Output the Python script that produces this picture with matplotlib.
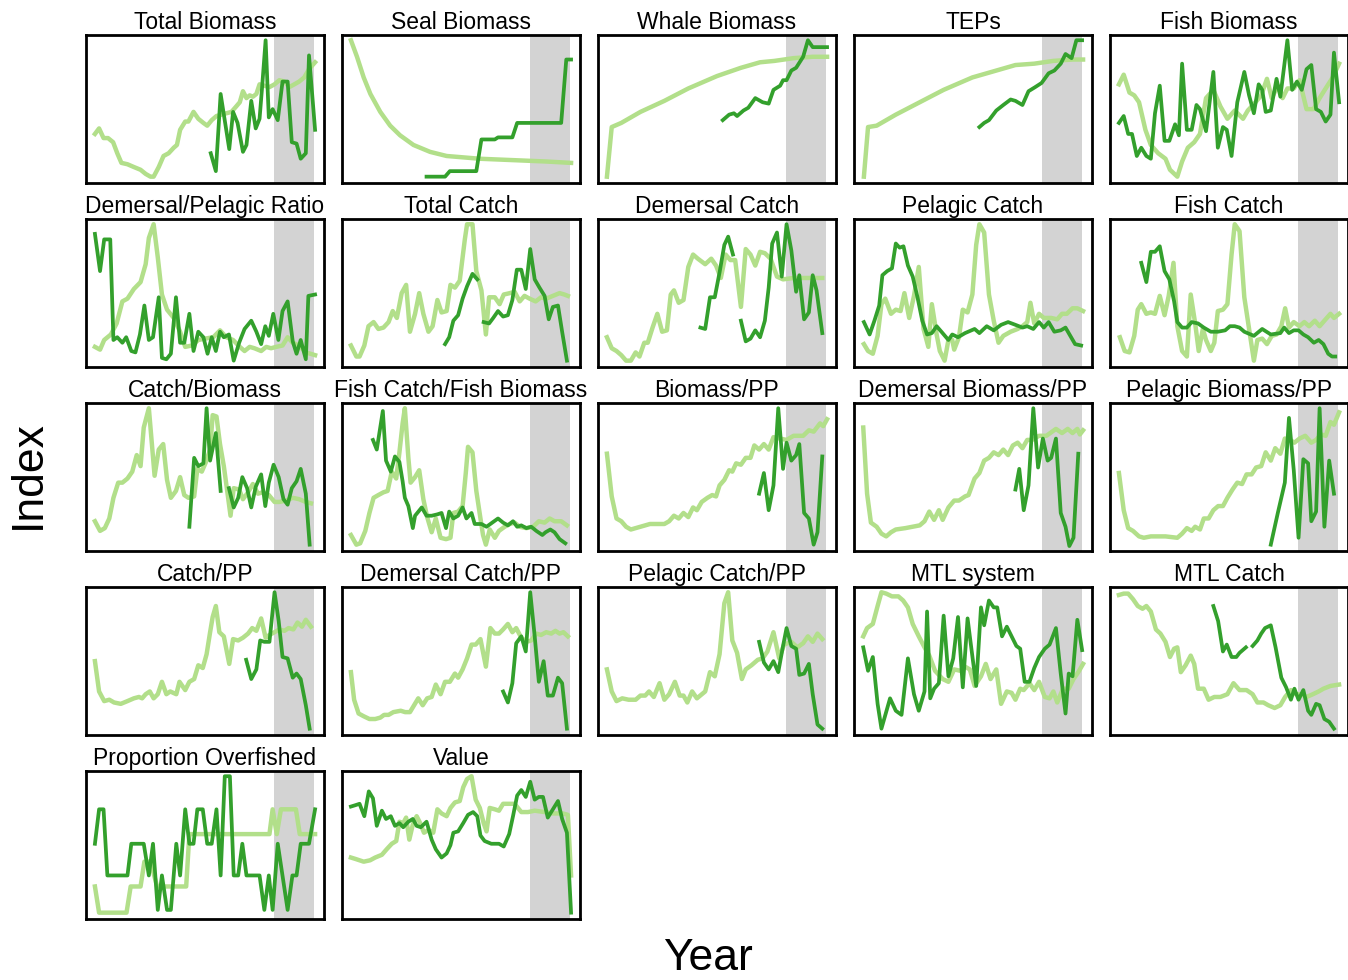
import numpy as np
import matplotlib
matplotlib.use("Agg")
import matplotlib.pyplot as plt

nan = np.nan

# values are an index scaled 0-100 inside each panel
# light = model series, dark = observed series

# Total Biomass
tb_mod_yr = [1950, 1951.3, 1952.7, 1954.1, 1955.7, 1957, 1958.3, 1960.2, 1962.2, 1964.3, 1965.9, 1967.4, 1968.4,
             1970, 1971.5, 1973.1, 1974.7, 1975.7, 1976.7, 1978.3, 1979.3, 1980.9, 1982.4, 1984, 1985.2, 1986.6,
             1988.1, 1989.7, 1991.2, 1992.8, 1994.3, 1995.4, 1996.4, 1997.5, 1998.5, 1999.5, 2000.6, 2001.6,
             2003.1, 2004.7, 2006.3, 2007.8, 2009.4, 2010.9, 2012.5, 2014, 2015.6, 2017.1, 2019]
tb_mod = [32, 36, 29, 29, 26, 18, 11, 10, 8, 6, 3, 1, 1, 8, 16, 18, 22, 24, 35, 41, 41, 48, 43, 40, 38, 42, 45, 46,
          47, 48, 52, 55, 63, 58, 60, 59, 61, 68, 67, 66, 68, 71, 70, 66, 68, 70, 73, 79, 84]
tb_obs_yr = [1986.3, 1987.9, 1989.4, 1992.1, 1993.3, 1994.7, 1996.4, 1997.5, 1999, 2000.4, 2001.6, 2002.4, 2003.5,
             2004.5, 2005.7, 2007.3, 2008.8, 2010.4, 2011.7, 2013.2, 2014.5, 2016.1, 2017.1, 2019]
tb_obs = [18, 5, 61, 21, 48, 40, 19, 24, 56, 36, 43, 66, 100, 44, 50, 42, 70, 70, 26, 25, 14, 18, 89, 35]

# Seal Biomass
seal_mod_yr = [1950, 1951.9, 1954, 1956.1, 1959.2, 1962.3, 1965.4, 1969.6, 1974.8, 1980, 1985.2, 1990.4, 2000.8,
               2011.2, 2019]
seal_mod = [100, 88, 73, 61, 48, 38, 31, 24, 19, 16, 15, 14, 13, 12, 11]
seal_obs_yr = [1973.7, 1979.5, 1981, 1989.3, 1990.9, 1995.1, 1996.1, 2000.6, 2002.1, 2015.9, 2017.5, 2019]
seal_obs = [1, 1, 5, 5, 28, 28, 29.5, 29.5, 40, 40, 86, 86]

# Whale Biomass
whale_mod_yr = [1950, 1951.5, 1954.5, 1960.5, 1968, 1975.5, 1984.5, 1992, 1998, 2002.5, 2008.5, 2014.5, 2019]
whale_mod = [1, 37, 40, 48, 56, 65, 74, 80, 84, 85, 87, 88, 88]
whale_obs_yr = [1986.3, 1988.3, 1989.8, 1990.8, 1992.8, 1994.3, 1996.5, 1998.8, 2000.7, 2002.2, 2004.3, 2005.2,
                2006.3, 2007.8, 2009.3, 2011.5, 2013, 2014.5, 2019]
whale_obs = [42, 46, 47, 45, 49, 51, 58, 55, 54, 64, 67, 71, 71, 78, 80, 88, 100, 95, 95]

# TEPs
tep_mod_yr = [1950.3, 1951.6, 1954.3, 1960.3, 1967.8, 1975.3, 1984.3, 1991.8, 1997.8, 2003.7, 2009.7, 2015.7, 2019]
tep_mod = [1, 37, 38, 46, 55, 64, 73, 78, 82, 83, 85, 86, 86]
tep_obs_yr = [1986.5, 1988, 1989.5, 1991.8, 1994, 1996.3, 1997.8, 2000, 2001.9, 2004, 2006, 2008.2, 2010, 2012,
              2013.5, 2015.4, 2016.9, 2018.7]
tep_obs = [37, 40, 42, 49, 53, 57, 56, 53, 63, 66, 69, 76, 78, 83, 90, 87, 100, 100]

# Fish Biomass
fb_mod_yr = [1950, 1951.5, 1953.3, 1954.8, 1956.3, 1958.3, 1960, 1962.3, 1964.6, 1966, 1968.3, 1969.8, 1971.6,
             1973.6, 1975.4, 1977.3, 1979.6, 1981.8, 1984, 1986.3, 1988.9, 1990.4, 1992.8, 1994.6, 1996.4, 1997.9,
             1999.8, 2001.3, 2002.8, 2004.8, 2006.6, 2008.8, 2011, 2012.9, 2014.8, 2017, 2019]
fb_mod = [68, 75, 62, 60, 55, 35, 24, 18, 14, 6, 1, 12, 22, 26, 32, 58, 64, 52, 43, 49, 43, 49, 55, 60, 72, 58, 67,
          58, 65, 65, 71, 50, 50, 58, 65, 73, 83]
fb_obs_yr = [1950, 1951.5, 1952.9, 1954.1, 1955.6, 1957, 1958.6, 1960, 1961.3, 1962.8, 1964.3, 1965.8, 1967.6,
             1968.8, 1969.8, 1971.3, 1972.8, 1974.3, 1975.4, 1977.3, 1979.6, 1981, 1982.6, 1983.8, 1985.3, 1987.1,
             1989.3, 1990.8, 1992.3, 1993.8, 1994.9, 1996, 1997.6, 1999.4, 2000.6, 2002.8, 2004.3, 2005.8, 2007.3,
             2008.8, 2010.3, 2011.8, 2013.3, 2014.8, 2016.3, 2017.4, 2019]
fb_obs = [40, 45, 32, 32, 16, 22, 16, 14, 47, 67, 27, 27, 39, 31, 83, 35, 35, 53, 50, 34, 77, 22, 37, 35, 16, 55,
          77, 60, 47, 68, 64, 48, 49, 72, 59, 100, 64, 70, 64, 79, 82, 50, 48, 41, 46, 91, 55]

# Demersal/Pelagic Ratio
dp_mod_yr = [1950, 1951.6, 1952.9, 1955, 1956.8, 1958.6, 1960.2, 1962.2, 1964.3, 1965.9, 1966.9, 1968.4, 1969.7,
             1971, 1972.6, 1974.7, 1976.7, 1978.3, 1980.4, 1982.4, 1984.5, 1987.1, 1989.2, 1991.2, 1993.3, 1995.4,
             1996.9, 1998.5, 2000, 2002.1, 2003.7, 2005.2, 2006.8, 2008.8, 2010.4, 2012, 2014, 2016.1, 2019]
dp_mod = [11, 9, 16, 20, 28, 44, 46, 53, 58, 71, 90, 100, 76, 49, 38, 32, 22, 11, 12, 16, 17, 18, 23, 18, 16, 11,
          8, 11, 10, 8, 11, 10, 11, 12, 18, 14, 12, 7, 5]
dp_obs_yr = [1950, 1951.6, 1952.9, 1954.8, 1955.8, 1957, 1958.6, 1959.8, 1961.4, 1962.7, 1964.1, 1965.5, 1966.9,
             1968.2, 1970, 1971, 1972.4, 1973.8, 1975.4, 1976.7, 1978, 1979.6, 1980.9, 1982.4, 1984, 1985.3, 1986.6,
             1987.9, 1989.2, 1990.4, 1992, 1993.5, 1995.2, 1996.9, 1999, 2000.6, 2002.1, 2003.4, 2004.5, 2005.9,
             2007.5, 2008.8, 2010.4, 2012, 2013.2, 2014.5, 2016.1, 2016.9, 2019]
dp_obs = [93, 66, 89, 89, 16, 18, 14, 18, 8, 7, 20, 41, 16, 18, 47, 3, 2, 6, 47, 14, 14, 35, 8, 22, 18, 6, 18, 8,
          22, 18, 20, 1, 14, 24, 30, 22, 13, 26, 19, 35, 16, 37, 44, 15, 6, 16, 2, 48, 49]

# Total Catch
tc_mod_yr = [1950, 1951.7, 1952.7, 1954.2, 1955.5, 1957.1, 1958.6, 1960.2, 1961.8, 1963.1, 1964.4, 1965.9, 1967.3,
             1968.5, 1970.1, 1971.4, 1972.7, 1974.3, 1975.6, 1977.1, 1978.4, 1980, 1981.2, 1982.6, 1984.1, 1985.7,
             1986.4, 1988.1, 1989.3, 1990.9, 1992.3, 1993.3, 1995.1, 1996.6, 1997.9, 1999.8, 2001.3, 2002.9, 2004.4,
             2006, 2007.9, 2009.6, 2011.2, 2013.3, 2015.4, 2016.9, 2018]
tc_mod = [12, 4, 4, 12, 26, 29, 24, 25, 29, 37, 32, 50, 56, 22, 35, 50, 35, 22, 26, 45, 36, 37, 56, 54, 59, 89, 100,
          100, 66, 52, 20, 47, 47, 42, 49, 50, 51, 44, 48, 46, 44, 47, 46, 48, 50, 49, 48]
tc_obs_yr = [1979.5, 1980.8, 1982.1, 1983.6, 1985, 1986.4, 1988.1, 1989.6, 1990.6, 1991.6, 1993.3, 1994.6, 1996.1,
             1997.7, 1999.2, 2000.6, 2002, 2003.4, 2004.8, 2006.2, 2007.6, 2009.1, 2010.7, 2012, 2013.3, 2014.9,
             2016.2, 2017.7]
tc_obs = [13, 18, 30, 34, 46, 55, 64, 60, nan, 29, 28, 32, 37, 33, 34, 45, 67, 67, 53, 82, 60, 54, 48, 31, 40, 41,
          22, 1]

# Demersal Catch
dc_mod_yr = [1950, 1951.5, 1953, 1954.5, 1956, 1957.5, 1959, 1960.2, 1961.7, 1962.8, 1964.3, 1965.8, 1967.3, 1968.8,
             1970, 1971, 1972.5, 1974, 1975.5, 1977, 1978.5, 1980.8, 1982.7, 1984.2, 1985.7, 1987.2, 1988.7, 1990.2,
             1992, 1993.5, 1995, 1996.5, 1998, 1999.5, 2001.3, 2003.3, 2005.2, 2008.5, 2013, 2017.5]
dc_mod = [18, 10, 8, 5, 1, 1, 7, 4, 14, 14, 25, 35, 22, 23, 49, 52, 43, 45, 69, 78, 75, 71, 75, 70, 61, 78, 74, 74,
          40, 82, 78, 70, 80, 79, 75, 62, 60, 61, 61, 61]
dc_obs_yr = [1979.3, 1980.8, 1982.3, 1983.8, 1985.3, 1986.8, 1988, 1989.5, 1990.8, 1992, 1993.5, 1995, 1996.5, 1998,
             1999.5, 2000.7, 2001.8, 2003.3, 2004.8, 2006.3, 2007.8, 2009.3, 2010.3, 2011.8, 2013.3, 2014.5, 2015.7,
             2017.5]
dc_obs = [25, 24, 47, 47, 65, 85, 91, 78, nan, 30, 15, 17, 23, 18, 30, 54, 86, 94, 62, 100, 81, 51, 63, 31, 36, 63,
          52, 21]

# Pelagic Catch
pc_mod_yr = [1950.3, 1951.6, 1953.1, 1954.6, 1955.8, 1957, 1958.8, 1960.3, 1961.8, 1963, 1964.5, 1966, 1967.5,
             1969, 1970.5, 1971.6, 1973.1, 1974.1, 1975.6, 1976.8, 1978, 1978.6, 1980.1, 1981.3, 1982.8, 1984.3,
             1985.5, 1986.5, 1988, 1989.5, 1991, 1992.5, 1994, 1996.3, 1998.5, 2000, 2001.5, 2002.5, 2003.7, 2005.2,
             2006.7, 2009, 2010.9, 2012.4, 2013.9, 2015.7, 2017.2, 2019]
pc_mod = [13, 8, 6, 19, 42, 46, 35, 38, 37, 50, 32, 48, 69, 24, 11, 42, 20, 8, 1, 16, 16, 9, 18, 38, 36, 49, 85,
          100, 94, 49, 30, 14, 19, 22, 24, 26, 29, 43, 28, 35, 32, 32, 31, 35, 35, 39, 39, 37]
pc_obs_yr = [1950.3, 1952.1, 1953.6, 1955.1, 1956.1, 1957.6, 1959.1, 1960.3, 1961.5, 1962.7, 1964.1, 1965.6, 1967.1,
             1968.6, 1970.1, 1971.6, 1973.1, 1974.6, 1976.8, 1978, 1979.8, 1982, 1985, 1986.5, 1988.8, 1991, 1993.3,
             1995.5, 1997.8, 2000, 2001.5, 2003.4, 2005.2, 2006.7, 2008.2, 2010, 2012, 2013.5, 2015, 2016.5, 2018.4]
pc_obs = [29, 20, 30, 41, 63, 66, 68, 86, 83, 84, 70, 62, 47, 30, 20, 21, 26, 22, 16, 20, 18, 21, 24, 21, 26, 23,
          27, 29, 27, 25, 26, 24, 29, 25, 29, 22, 23, 25, 19, 13, 12]

# Fish Catch
fc_mod_yr = [1950.3, 1951.8, 1953.3, 1954.8, 1955.9, 1957, 1958.6, 1960, 1961.3, 1962.8, 1964.3, 1965.6, 1967.1,
             1968.3, 1969.8, 1971.3, 1972.5, 1973.9, 1975, 1976.3, 1977.3, 1978.8, 1979.9, 1981, 1982.6, 1984,
             1985.3, 1986.3, 1987.8, 1989.3, 1990.8, 1992.3, 1993.4, 1994.9, 1996.4, 1997.9, 1999.4, 2000.9, 2002.1,
             2003.3, 2004.8, 2006.6, 2008.1, 2009.6, 2011.4, 2012.9, 2014.4, 2016.3, 2017.4, 2019]
fc_mod = [18, 8, 7, 19, 38, 42, 35, 36, 35, 48, 34, 48, 72, 26, 8, 4, 49, 28, 8, 24, 16, 8, 14, 37, 38, 42, 78, 100,
          95, 47, 24, 1, 16, 17, 13, 19, 20, 26, 39, 25, 29, 26, 29, 26, 30, 26, 30, 35, 32, 35]
fc_obs_yr = [1957, 1958.6, 1960, 1961.3, 1962.8, 1964.3, 1965.8, 1967.3, 1968.3, 1969.8, 1971.3, 1972.8, 1974.8,
             1976.6, 1978.8, 1981, 1983.3, 1984.8, 1986.3, 1987.8, 1989.3, 1992.3, 1994.9, 1997.6, 2000.6, 2001.8,
             2003.3, 2004.8, 2006.3, 2007.8, 2009.3, 2011.1, 2012.6, 2014.1, 2015.6, 2016.8, 2017.8]
fc_obs = [72, 58, 80, 80, 84, 66, 60, 44, 29, 25, 25, 29, 28, 25, 22, 22, 23, 26, 26, 25, 22, 19, 24, 20, 21, 25,
          21, 23, 23, 20, 18, 14, 16, 13, 6, 4, 4]

# Catch/Biomass
cb_mod_yr = [1950, 1951.6, 1953.1, 1954.5, 1955.8, 1957.3, 1958.6, 1960.2, 1961.7, 1963.1, 1964.3, 1965.3, 1966.9,
             1968.7, 1970, 1971.4, 1972.6, 1973.8, 1975.4, 1976.7, 1978, 1979.3, 1981.1, 1982.1, 1983.5, 1984.8,
             1986.1, 1986.9, 1988.1, 1989.2, 1990.4, 1991.4, 1992.5, 1993.5, 1995.2, 1996.4, 1998, 1999.5, 2001.1,
             2002.6, 2004.5, 2006.3, 2007.8, 2009.9, 2012, 2014, 2016.1, 2017.7]
cb_mod = [18, 11, 13, 20, 35, 46, 46, 49, 54, 66, 58, 86, 100, 51, 70, 74, 48, 35, 40, 50, 37, 35, 36, 56, 54, 61,
          70, 95, 94, 74, 58, 41, 22, 42, 41, 34, 39, 45, 38, 39, 37, 32, 32, 33, 35, 34, 32, 31]
cb_obs_yr = [1979.6, 1981.1, 1982.4, 1984, 1985, 1986.1, 1987.9, 1989.4, 1990.7, 1992, 1993.5, 1994.9, 1996.2,
             1997.7, 1999, 2000.4, 2002.1, 2003.4, 2004.5, 2006, 2007.6, 2009.1, 2010.4, 2011.7, 2013.2, 2014.5,
             2016.1, 2017.3]
cb_obs = [14, 64, 58, 60, 100, 62, 82, 40, nan, 42, 28, 35, 50, 42, 28, 43, 52, 29, 46, 59, 50, 34, 30, 42, 47, 56,
          38, 1]

# Fish Catch/Fish Biomass
fcfb_mod_yr = [1950, 1951.7, 1952.9, 1954.5, 1955.8, 1957.1, 1958.6, 1960.2, 1961.5, 1962.8, 1964.2, 1965.2,
               1966.2, 1966.9, 1968, 1968.7, 1970.1, 1971.4, 1972.7, 1973.9, 1975.3, 1976.6, 1978.1, 1979.8, 1981.2,
               1982.1, 1983.6, 1985, 1986, 1986.7, 1988.1, 1989.3, 1990.6, 1991.4, 1992.3, 1993.5, 1995.1, 1996.4,
               1998.2, 1999.8, 2001.3, 2002.9, 2005, 2007.1, 2008.9, 2010.7, 2012.3, 2013.8, 2015.9, 2017.7]
fcfb_mod = [8, 1, 2, 11, 24, 35, 37, 39, 40, 54, 49, 68, 89, 100, 64, 46, 50, 55, 34, 21, 10, 20, 6, 5, 6, 24, 25,
            29, 53, 72, 68, 40, 20, 8, 1, 12, 6, 11, 14, 16, 17, 14, 13, 14, 18, 17, 20, 18, 18, 15]
fcfb_obs_yr = [1956.9, 1958.1, 1960, 1961, 1962.5, 1963.8, 1965.2, 1966.2, 1966.9, 1968, 1969.4, 1970.1, 1972.2,
               1973.7, 1975.3, 1977.1, 1978.4, 1979.8, 1980.8, 1982.1, 1983.6, 1985, 1986.2, 1987.8, 1988.8, 1990.9,
               1992.5, 1994.3, 1996.1, 1997.7, 1999.2, 2000.8, 2002.1, 2003.4, 2005, 2006.5, 2008.1, 2010, 2011,
               2012.5, 2013.8, 2015.4, 2017.2]
fcfb_obs = [77, 70, 98, 62, 54, 65, 61, 47, 35, 29, 13, 22, 28, 22, 22, 23, 24, 13, 25, 20, 22, 28, 20, 24, 16, 16,
            14, 17, 20, 17, 15, 18, 14, 15, 13, 14, 11, 8, 10, 12, 10, 5, 2]

# Biomass/PP
bpp_mod_yr = [1950, 1951.5, 1953, 1954.5, 1956, 1957.5, 1960.5, 1963.5, 1968, 1969.5, 1971, 1972.5, 1974, 1975.5,
              1977, 1978.2, 1979.7, 1981.5, 1983, 1984.2, 1985.3, 1986.8, 1988.3, 1989.3, 1990.5, 1992, 1993.5,
              1995, 1996.2, 1997.7, 1999.2, 2000.7, 2002.2, 2004.3, 2006.3, 2008.5, 2011.5, 2013.3, 2014.8, 2016.8,
              2017.8, 2019]
bpp_mod = [67, 36, 20, 18, 14, 12, 14, 16, 16, 18, 22, 20, 24, 21, 28, 26, 32, 35, 37, 36, 44, 48, 55, 54, 60, 59,
           64, 64, 73, 70, 74, 70, 79, 78, 77, 80, 80, 84, 83, 89, 87, 92]
bpp_obs_yr = [1997.7, 1999.2, 2000.7, 2002.2, 2003.7, 2005.2, 2006.3, 2007.8, 2009.3, 2010.3, 2011.8, 2013.3,
              2014.8, 2016, 2017.5]
bpp_obs = [38, 53, 26, 44, 100, 56, 75, 62, 66, 74, 24, 20, 1, 10, 65]

# Demersal Biomass/PP
dbpp_mod_yr = [1950.1, 1951.3, 1952.5, 1954.3, 1955.8, 1957.3, 1958.8, 1960.3, 1963.3, 1967.8, 1969.3, 1970.8,
               1972.3, 1973.8, 1975, 1976.8, 1978.6, 1980.1, 1982, 1983.1, 1985, 1986.5, 1988, 1989.5, 1991, 1992.5,
               1994, 1995.5, 1997, 1998.5, 2000, 2001.5, 2003, 2005.2, 2007.5, 2010.5, 2012.4, 2014.2, 2015.7,
               2017.2, 2018, 2019]
dbpp_mod = [86, 38, 17, 14, 9, 7, 10, 12, 13, 15, 18, 25, 19, 26, 19, 28, 33, 33, 36, 37, 49, 53, 62, 64, 68, 66,
            70, 66, 73, 75, 71, 77, 77, 80, 80, 85, 82, 85, 82, 85, 81, 84]
dbpp_obs_yr = [1997.8, 1999, 2000.4, 2001.9, 2003.4, 2004.9, 2006.4, 2007.9, 2009, 2010.5, 2012, 2013.5, 2014.7,
               2016, 2017.5]
dbpp_obs = [41, 56, 26, 44, 100, 57, 78, 62, 64, 78, 24, 14, 0, 6, 67]

# Pelagic Biomass/PP
pbpp_mod_yr = [1950, 1951.5, 1952.9, 1954.4, 1956.3, 1957.8, 1960, 1964.6, 1968.3, 1969.8, 1971.3, 1972.8, 1973.9,
               1975.4, 1976.6, 1978.1, 1979.6, 1981.1, 1982.6, 1984, 1985.6, 1987.1, 1988.6, 1990, 1991.6, 1993,
               1994.6, 1996, 1997.6, 1999, 2000.6, 2002, 2003.6, 2005, 2006.6, 2008.4, 2010.3, 2011.8, 2013.3,
               2014.8, 2016.3, 2017.4, 2019]
pbpp_mod = [53, 26, 13, 11, 7, 6, 7, 7, 6, 9, 13, 11, 14, 12, 20, 20, 26, 29, 29, 35, 41, 46, 45, 52, 52, 57, 58,
            68, 62, 71, 67, 78, 77, 75, 78, 80, 75, 77, 81, 80, 90, 88, 97]
pbpp_obs_yr = [1997.6, 1999.8, 2002, 2003.3, 2004.8, 2006.3, 2007.8, 2009.3, 2010.3, 2011.8, 2012.9, 2014.4,
               2015.9, 2017.4]
pbpp_obs = [1, 24, 46, 93, 55, 6, 63, 60, 18, 25, 100, 14, 62, 38]

# Catch/PP
cpp_mod_yr = [1950, 1951.3, 1952.9, 1954.5, 1956, 1958.1, 1960.2, 1962.2, 1963.8, 1964.8, 1965.9, 1967.2, 1968.4,
              1969.7, 1971, 1972.4, 1973.6, 1975.5, 1976.5, 1978.3, 1979.6, 1981.1, 1982.4, 1983.8, 1985, 1986.1,
              1986.9, 1987.9, 1989, 1990.4, 1992.1, 1993.3, 1994.9, 1996.4, 1998, 1999.3, 2000.6, 2002.1, 2003.5,
              2004.7, 2006.3, 2007.8, 2009.4, 2010.7, 2012.2, 2013.5, 2014.9, 2016.1, 2017.7]
cpp_mod = [50, 28, 21, 22, 20, 19, 21, 23, 24, 23, 26, 28, 23, 26, 35, 26, 28, 26, 35, 29, 35, 37, 47, 45, 55, 71,
           82, 90, 71, 68, 48, 66, 65, 67, 70, 74, 72, 81, 67, 69, 71, 73, 72, 74, 73, 78, 75, 80, 75]
cpp_obs_yr = [1997.4, 1999, 2000.6, 2001.8, 2003.1, 2004.7, 2006.3, 2007.6, 2008.8, 2010.4, 2012, 2013.2, 2014.5,
              2016.1, 2017.3]
cpp_obs = [51, 37, 44, 65, 64, 64, 100, 79, 53, 52, 38, 41, 37, 18, 1]

# Demersal Catch/PP
dcpp_mod_yr = [1950, 1951, 1952.4, 1954, 1955.8, 1957.6, 1959.2, 1960.4, 1961.8, 1963.3, 1965.6, 1967, 1968.5,
               1969.8, 1971.1, 1972.5, 1973.9, 1975.3, 1976.6, 1978.1, 1979.5, 1981, 1982.6, 1983.6, 1985, 1986.4,
               1987.8, 1989.1, 1990.6, 1992.3, 1993.7, 1995.1, 1996.4, 1997.7, 1999.2, 2000.6, 2001.8, 2003.4, 2005,
               2006.5, 2008.1, 2009.6, 2011.2, 2012.8, 2014.1, 2015.4, 2016.6, 2018]
dcpp_mod = [42, 22, 12, 10, 8, 8, 9, 11, 11, 13, 14, 13, 13, 18, 23, 18, 23, 24, 33, 26, 35, 35, 41, 38, 44, 52, 62,
            62, 66, 46, 74, 70, 70, 73, 77, 71, 74, 67, 64, 65, 70, 69, 71, 70, 72, 70, 71, 68]
dcpp_obs_yr = [1997.7, 1999.2, 2000.6, 2001.8, 2003.4, 2004.8, 2006.2, 2007.6, 2008.9, 2010.4, 2011.7, 2013.3,
               2014.9, 2016.2, 2017.7]
dcpp_obs = [28, 20, 34, 63, 68, 57, 100, 68, 35, 50, 25, 25, 38, 34, 1]

# Pelagic Catch/PP
pcpp_mod_yr = [1950, 1951.5, 1953, 1954.8, 1956.8, 1959, 1960.5, 1962, 1963.2, 1964.7, 1966.5, 1968, 1969.5, 1971.3,
               1972.8, 1974, 1975.2, 1976.7, 1978.2, 1980.8, 1982.3, 1983.8, 1985.3, 1986.8, 1988, 1989.3, 1990.8,
               1992.3, 1993.5, 1995.3, 1997.3, 1998.8, 2000.3, 2002.2, 2004, 2005.5, 2007.8, 2009.7, 2011.5, 2013,
               2014.5, 2016, 2017.5]
pcpp_mod = [44, 28, 21, 23, 22, 22, 25, 25, 28, 24, 34, 22, 26, 35, 25, 25, 20, 28, 23, 28, 42, 39, 55, 92, 100, 65,
            56, 37, 44, 47, 51, 52, 57, 71, 52, 62, 64, 60, 63, 68, 64, 70, 66]
pcpp_obs_yr = [1997.7, 1999.2, 2000.7, 2002.2, 2003.7, 2005.2, 2006.3, 2007.8, 2009.3, 2010.3, 2011.8, 2013.3,
               2014.5, 2016, 2017.5]
pcpp_obs = [64, 49, 44, 50, 42, 61, 74, 61, 59, 40, 41, 48, 26, 4, 1]

# MTL system
mtls_mod_yr = [1950.1, 1951.3, 1953.1, 1954.6, 1955.8, 1957.3, 1959.1, 1961.1, 1962.6, 1964.1, 1965.6, 1967.5,
               1969.3, 1970.8, 1972.6, 1975, 1976.8, 1978.6, 1980.5, 1982, 1983.5, 1985, 1987, 1988.5, 1990, 1991.8,
               1993.3, 1995.1, 1996.6, 1997.8, 1999.3, 2000.4, 2002.2, 2003.7, 2005.2, 2007, 2008.5, 2009.7, 2010.9,
               2012.7, 2014.5, 2016, 2017.5, 2019]
mtls_mod = [68, 74, 77, 90, 100, 99, 97, 97, 94, 89, 77, 68, 60, 54, 43, 37, 35, 44, 43, 46, 44, 32, 39, 48, 37, 44,
            19, 28, 27, 22, 30, 29, 34, 29, 35, 24, 23, 28, 20, 30, 30, 37, 42, 48]
mtls_obs_yr = [1950.1, 1951.6, 1953.1, 1954.6, 1955.8, 1958.5, 1960.3, 1962.1, 1964.1, 1966, 1967.5, 1969.3, 1970.1,
               1971.1, 1972.3, 1973.8, 1975.3, 1976.8, 1978.3, 1979.8, 1981.3, 1982.8, 1984, 1985.5, 1987, 1988,
               1989.5, 1991, 1992.1, 1993.6, 1995.1, 1996.6, 1998.1, 1999.3, 2000.7, 2002.2, 2003.7, 2005.2, 2007,
               2008.5, 2010.5, 2012, 2013.5, 2014.5, 2015.7, 2017.2, 2018.7]
mtls_obs = [60, 43, 53, 19, 1, 23, 14, 11, 52, 26, 14, 28, 86, 23, 30, 34, 83, 39, 52, 82, 31, 81, 59, 32, 89, 76,
            94, 89, 89, 68, 75, 68, 61, 59, 35, 35, 45, 53, 59, 62, 74, 41, 12, 41, 39, 80, 58]

# MTL Catch
mtlc_mod_yr = [1950, 1951.5, 1952.9, 1954.4, 1955.9, 1957.4, 1958.6, 1960, 1961.6, 1963, 1964.6, 1966, 1967.3,
               1968.3, 1969.4, 1970.9, 1972.5, 1973.6, 1974.8, 1976.6, 1978.1, 1979.9, 1981.8, 1984, 1985.9, 1987.8,
               1990, 1991.9, 1993.4, 1995.3, 1996.8, 1998.8, 2000.6, 2002.1, 2003.9, 2005.4, 2007.3, 2008.8, 2010.8,
               2012.6, 2014.1, 2016.3, 2019]
mtlc_mod = [98, 99, 99, 95, 90, 88, 90, 86, 73, 70, 64, 53, 59, 60, 42, 47, 54, 48, 30, 30, 22, 24, 24, 26, 34, 29,
            29, 26, 20, 20, 18, 16, 18, 24, 29, 26, 26, 24, 26, 28, 30, 32, 33]
mtlc_obs_yr = [1979.6, 1981.1, 1982.6, 1983.8, 1985.3, 1986.8, 1987.8, 1989.8, 1990.8, 1991.9, 1993.4, 1994.6,
               1995.8, 1997.6, 1999.1, 2000.9, 2002.4, 2003.9, 2005, 2006.3, 2007.8, 2009.3, 2010.3, 2011.8, 2012.9,
               2014.4, 2015.9, 2017.4]
mtlc_obs = [90, 79, 57, 62, 53, 53, 56, 60, nan, 61, 65, 70, 74, 76, 60, 38, 31, 22, 30, 22, 29, 14, 11, 19, 18, 8,
            6, 1]

# Proportion Overfished
po_mod_yr = [1950, 1951.3, 1959.9, 1961.2, 1964.3, 1965.5, 1967.4, 1969.5, 1978.6, 1979.6, 2004.7, 2005.7, 2007,
             2008.3, 2013, 2014.2, 2019]
po_mod = [20, 1, 1, 20, 20, 38, 38, 20, 20, 58, 58, 76, 58, 76, 76, 58, 58]
po_obs_yr = [1950, 1951.3, 1952.7, 1953.9, 1960.2, 1961.4, 1965.3, 1966.9, 1968.2, 1969.7, 1971, 1972.6, 1973.8,
             1975.5, 1976.7, 1978.3, 1979.6, 1980.9, 1982.1, 1983.8, 1985.2, 1986.6, 1988.1, 1989.4, 1990.7, 1992.3,
             1993.5, 1994.9, 1996.2, 1997.5, 2001.6, 2003.1, 2004.5, 2005.7, 2007.3, 2010.4, 2011.9, 2013.2, 2014.5,
             2017.1, 2019]
po_obs = [51, 76, 76, 28, 28, 51, 51, 28, 51, 3, 28, 3, 3, 51, 28, 76, 51, 51, 76, 76, 51, 51, 76, 28, 100, 100, 28,
          28, 51, 28, 28, 3, 28, 3, 51, 3, 28, 28, 51, 51, 76]

# Value
val_mod_yr = [1950, 1951.4, 1954, 1956, 1957.6, 1959.7, 1961.2, 1962.8, 1964.2, 1965.2, 1966.4, 1967.3, 1968.3,
              1969.4, 1970.6, 1971.7, 1972.9, 1974.3, 1975.8, 1977.1, 1978.4, 1980, 1981.2, 1982.6, 1984.1, 1985.2,
              1986.4, 1987.8, 1989.1, 1990.4, 1991.6, 1992.5, 1993.5, 1995.1, 1996.4, 1997.7, 1999.8, 2001.3, 2003.4,
              2005.5, 2007.6, 2010.7, 2013.3, 2016.4, 2018, 2019]
val_mod = [41, 40, 38, 39, 41, 43, 47, 51, 53, 67, 66, 70, 54, 65, 71, 66, 59, 61, 59, 76, 73, 71, 77, 81, 82, 92,
           98, 100, 83, 77, 66, 60, 77, 76, 75, 80, 80, 80, 74, 74, 75, 74, 73, 73, 72, 28]
val_obs_yr = [1950, 1951.4, 1952.7, 1954.2, 1955.6, 1956.9, 1958.1, 1959.7, 1961, 1962.5, 1963.8, 1965.2, 1966.4,
              1968, 1969.4, 1970.6, 1971.9, 1973.7, 1975.3, 1976.6, 1978.4, 1980, 1981.2, 1982.1, 1983.6, 1985.2,
              1986.7, 1988.3, 1989.6, 1990.6, 1991.9, 1994, 1996.4, 1997.9, 1999.6, 2000.8, 2002.1, 2003.4, 2004.8,
              2006.2, 2007.6, 2008.9, 2010.2, 2011.7, 2013.3, 2014.9, 2016.2, 2017.7, 2019]
val_obs = [78, 79, 80, 71, 89, 84, 64, 75, 69, 71, 64, 66, 63, 67, 69, 64, 63, 67, 54, 47, 41, 44, 50, 59, 60, 66,
           72, 74, 71, 57, 53, 51, 51, 49, 58, 71, 86, 90, 85, 96, 83, 85, 85, 70, 76, 82, 69, 59, 1]

titles = ["Total Biomass", "Seal Biomass", "Whale Biomass", "TEPs", "Fish Biomass",
          "Demersal/Pelagic Ratio", "Total Catch", "Demersal Catch", "Pelagic Catch", "Fish Catch",
          "Catch/Biomass", "Fish Catch/Fish Biomass", "Biomass/PP", "Demersal Biomass/PP", "Pelagic Biomass/PP",
          "Catch/PP", "Demersal Catch/PP", "Pelagic Catch/PP", "MTL system", "MTL Catch",
          "Proportion Overfished", "Value"]

series = [
    (tb_mod_yr, tb_mod, tb_obs_yr, tb_obs),
    (seal_mod_yr, seal_mod, seal_obs_yr, seal_obs),
    (whale_mod_yr, whale_mod, whale_obs_yr, whale_obs),
    (tep_mod_yr, tep_mod, tep_obs_yr, tep_obs),
    (fb_mod_yr, fb_mod, fb_obs_yr, fb_obs),
    (dp_mod_yr, dp_mod, dp_obs_yr, dp_obs),
    (tc_mod_yr, tc_mod, tc_obs_yr, tc_obs),
    (dc_mod_yr, dc_mod, dc_obs_yr, dc_obs),
    (pc_mod_yr, pc_mod, pc_obs_yr, pc_obs),
    (fc_mod_yr, fc_mod, fc_obs_yr, fc_obs),
    (cb_mod_yr, cb_mod, cb_obs_yr, cb_obs),
    (fcfb_mod_yr, fcfb_mod, fcfb_obs_yr, fcfb_obs),
    (bpp_mod_yr, bpp_mod, bpp_obs_yr, bpp_obs),
    (dbpp_mod_yr, dbpp_mod, dbpp_obs_yr, dbpp_obs),
    (pbpp_mod_yr, pbpp_mod, pbpp_obs_yr, pbpp_obs),
    (cpp_mod_yr, cpp_mod, cpp_obs_yr, cpp_obs),
    (dcpp_mod_yr, dcpp_mod, dcpp_obs_yr, dcpp_obs),
    (pcpp_mod_yr, pcpp_mod, pcpp_obs_yr, pcpp_obs),
    (mtls_mod_yr, mtls_mod, mtls_obs_yr, mtls_obs),
    (mtlc_mod_yr, mtlc_mod, mtlc_obs_yr, mtlc_obs),
    (po_mod_yr, po_mod, po_obs_yr, po_obs),
    (val_mod_yr, val_mod, val_obs_yr, val_obs),
]

proj_start, proj_end = 2006, 2018.7   # shaded period

LIGHT = "#b2df8a"
DARK = "#33a02c"
W, H = 1348, 980

plt.rcParams["font.family"] = ["Liberation Sans", "DejaVu Sans"]
fig = plt.figure(figsize=(W / 100, H / 100), dpi=100)

for i, (title, (mx, my, ox, oy)) in enumerate(zip(titles, series)):
    r, c = divmod(i, 5)
    left = 86 + c * 256
    top = 35 + r * 184
    ax = fig.add_axes([left / W, 1 - (top + 148) / H, 238 / W, 148 / H])
    ax.axvspan(proj_start, proj_end, color="#d3d3d3", lw=0, zorder=0)
    ax.plot(mx, my, color=LIGHT, lw=3.2, zorder=2)
    ax.plot(ox, np.array(oy, dtype=float), color=DARK, lw=2.7, zorder=3)
    ax.set_xlim(1947.2, 2021.8)
    ax.set_ylim(-3.6, 103.8)
    ax.set_xticks([])
    ax.set_yticks([])
    for s in ax.spines.values():
        s.set_linewidth(2.0)
    ax.set_title(title, fontsize=16.5, pad=4)

fig.text(708 / W, 1 - 958 / H, "Year", fontsize=32, ha="center", va="center")
fig.text(28 / W, 1 - 475 / H, "Index", fontsize=32, rotation=90, ha="center", va="center")

fig.savefig("out.png", dpi=100)
